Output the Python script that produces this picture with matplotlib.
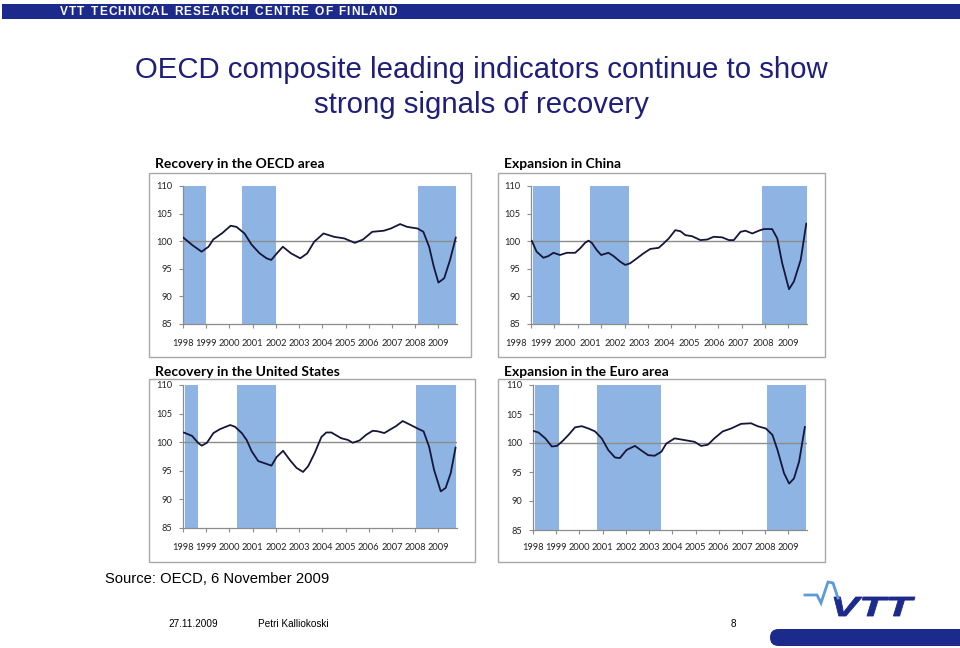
import matplotlib
matplotlib.use("Agg")
import matplotlib.pyplot as plt
import matplotlib.transforms as mtransforms
from matplotlib.patches import Rectangle, FancyBboxPatch, PathPatch
from matplotlib.textpath import TextPath, text_to_path
from matplotlib.font_manager import FontProperties
import numpy as np

W, H = 960, 648

# ---------------- data ----------------
year_labels = ["1998", "1999", "2000", "2001", "2002", "2003", "2004",
               "2005", "2006", "2007", "2008", "2009"]
y_ticks = [85, 90, 95, 100, 105, 110]

oecd_years = [1998.0, 1998.4, 1998.8, 1999.1, 1999.3, 1999.7, 2000.05, 2000.3, 2000.65,
              2000.95, 2001.3, 2001.6, 2001.8, 2002.0, 2002.3, 2002.65, 2003.05, 2003.35,
              2003.65, 2004.05, 2004.5, 2004.95, 2005.4, 2005.75, 2006.15, 2006.65,
              2006.95, 2007.35, 2007.65, 2008.1, 2008.35, 2008.6, 2008.8, 2009.0,
              2009.25, 2009.5, 2009.75]
oecd_vals = [100.7, 99.3, 98.1, 99.0, 100.3, 101.5, 102.8, 102.6, 101.4,
             99.4, 97.8, 96.9, 96.6, 97.6, 99.0, 97.8, 96.9, 97.8,
             99.9, 101.4, 100.8, 100.5, 99.7, 100.3, 101.7, 101.9,
             102.3, 103.1, 102.6, 102.3, 101.7, 99.0, 95.4, 92.5,
             93.3, 96.6, 100.7]
oecd_bands = [(1998.06, 1999.0), (2000.56, 2001.99), (2008.1, 2009.75)]

china_years = [1998.03, 1998.24, 1998.53, 1998.74, 1998.96, 1999.24, 1999.53, 1999.89,
               2000.1, 2000.31, 2000.46, 2000.6, 2000.81, 2001.0, 2001.31, 2001.53,
               2001.81, 2002.03, 2002.24, 2002.53, 2002.81, 2003.1, 2003.46, 2003.67,
               2003.89, 2004.17, 2004.39, 2004.6, 2004.89, 2005.24, 2005.53, 2005.81,
               2006.17, 2006.46, 2006.67, 2006.96, 2007.17, 2007.46, 2007.74, 2007.96,
               2008.31, 2008.53, 2008.74, 2009.03, 2009.24, 2009.53, 2009.77]
china_vals = [100.1, 98.1, 97.0, 97.3, 97.9, 97.5, 97.9, 97.9,
              98.7, 99.7, 100.1, 99.7, 98.4, 97.5, 97.9, 97.3,
              96.3, 95.7, 96.0, 96.9, 97.8, 98.6, 98.8, 99.6,
              100.5, 102.0, 101.8, 101.1, 100.9, 100.2, 100.3, 100.8,
              100.7, 100.2, 100.2, 101.7, 101.9, 101.4, 101.9, 102.2,
              102.2, 100.5, 96.0, 91.3, 92.7, 96.6, 103.2]
china_bands = [(1998.1, 1999.24), (2000.53, 2002.17), (2007.89, 2009.81)]

us_years = [1998.03, 1998.39, 1998.67, 1998.81, 1999.03, 1999.31, 1999.6, 2000.03,
            2000.24, 2000.53, 2000.74, 2000.96, 2001.24, 2001.53, 2001.81, 2002.03,
            2002.31, 2002.6, 2002.89, 2003.17, 2003.39, 2003.67, 2003.96, 2004.17,
            2004.39, 2004.81, 2005.1, 2005.31, 2005.6, 2005.89, 2006.17, 2006.39,
            2006.67, 2006.96, 2007.17, 2007.46, 2007.81, 2008.1, 2008.36, 2008.6,
            2008.81, 2009.1, 2009.31, 2009.53, 2009.74]
us_vals = [101.7, 101.1, 99.8, 99.4, 99.9, 101.6, 102.3, 103.0,
           102.7, 101.6, 100.4, 98.4, 96.7, 96.3, 95.9, 97.4,
           98.5, 96.9, 95.5, 94.8, 95.8, 98.1, 100.9, 101.7,
           101.7, 100.7, 100.4, 99.9, 100.3, 101.3, 102.0, 101.9,
           101.6, 102.3, 102.8, 103.7, 103.0, 102.4, 101.9, 99.2,
           95.2, 91.4, 92.0, 94.6, 99.1]
us_bands = [(1998.07, 1998.63), (2000.31, 2001.99), (2008.03, 2009.75)]

euro_years = [1998.0, 1998.24, 1998.53, 1998.81, 1999.03, 1999.24, 1999.53, 1999.81,
              2000.1, 2000.39, 2000.67, 2000.96, 2001.24, 2001.53, 2001.74, 2002.03,
              2002.39, 2002.67, 2002.96, 2003.24, 2003.53, 2003.74, 2004.1, 2004.53,
              2004.96, 2005.24, 2005.53, 2005.81, 2006.17, 2006.53, 2006.96, 2007.39,
              2007.67, 2008.03, 2008.31, 2008.53, 2008.81, 2009.03, 2009.24, 2009.46,
              2009.71]
euro_vals = [102.1, 101.8, 100.8, 99.4, 99.5, 100.2, 101.4, 102.7,
             102.9, 102.5, 102.0, 100.8, 98.8, 97.5, 97.4, 98.8,
             99.5, 98.7, 97.9, 97.8, 98.5, 99.9, 100.8, 100.5,
             100.2, 99.5, 99.7, 100.8, 102.0, 102.5, 103.3, 103.4,
             102.9, 102.5, 101.4, 98.8, 94.8, 93.0, 93.9, 96.8,
             102.8]
euro_bands = [(1998.1, 1999.1), (2000.77, 2003.53), (2008.07, 2009.75)]

# ---------------- styling ----------------
NAVY = "#1c2a8c"
TITLE_COL = "#1f1f7a"
BAND = "#8db4e2"
LINE = "#16163a"
GRAY = "#8c8c8c"
PANEL_FONT = "Lato"

fig = plt.figure(figsize=(W / 100, H / 100), dpi=100)
fig.patch.set_facecolor("white")


def fx(x):
    return x / W


def fy(y):
    return 1 - y / H


def box(x0, y0, x1, y1):
    return [fx(x0), fy(y1), fx(x1) - fx(x0), fy(y0) - fy(y1)]


bg = fig.add_axes([0, 0, 1, 1])
bg.set_xlim(0, W)
bg.set_ylim(H, 0)
bg.axis("off")

# header bar with letter-spaced text
bg.add_patch(Rectangle((2, 4), W - 2, 15, facecolor=NAVY, edgecolor="none"))
header = "VTT TECHNICAL RESEARCH CENTRE OF FINLAND"
hfs = 8.6
hprop = FontProperties(family="Liberation Sans", weight="bold", size=hfs)
adv = [text_to_path.get_text_width_height_descent(c if c != " " else "n", hprop, False)[0]
       * 100 / 72 * (0.55 if c == " " else 1.0) for c in header]
x_start, x_end = 60, 397
track = (x_end - x_start - sum(adv[:-1]) - adv[-1]) / (len(header) - 1)
cx = x_start
for c, a in zip(header, adv):
    if c != " ":
        bg.text(cx, 12, c, color="white", fontproperties=hprop, va="center", ha="left")
    cx += a + track

# title
bg.text(481, 70, "OECD composite leading indicators continue to show",
        color=TITLE_COL, fontsize=21.2, family="Liberation Sans", ha="center", va="center")
bg.text(481, 105, "strong signals of recovery",
        color=TITLE_COL, fontsize=21.2, family="Liberation Sans", ha="center", va="center")

# panel frames
frames = [(149, 173, 471, 357), (498, 173, 825, 357), (149, 379, 475, 562), (498, 379, 825, 562)]
for (x0, y0, x1, y1) in frames:
    bg.add_patch(Rectangle((x0, y0), x1 - x0, y1 - y0, facecolor="white",
                           edgecolor="#a8a8a8", lw=1.0))

# source and footer
bg.text(105, 579, "Source: OECD, 6 November 2009", fontsize=10.6, family="Liberation Sans",
        color="black", ha="left", va="center")
bg.text(168, 624, "27.11.2009", fontsize=7.2, family="Liberation Sans", ha="left", va="center")
bg.text(258, 624, "Petri Kalliokoski", fontsize=7.2, family="Liberation Sans", ha="left", va="center")
bg.text(733, 624, "8", fontsize=7.2, family="Liberation Sans", ha="center", va="center")

# VTT logo
bg.add_patch(FancyBboxPatch((770, 629), 200, 17, boxstyle="round,pad=0,rounding_size=8.5",
                            facecolor=NAVY, edgecolor="none"))
wave_x = [805, 817, 821, 828, 833, 838]
wave_y = [595, 595, 603, 582, 583, 598]
bg.plot(wave_x, wave_y, color="#5d9ad8", lw=2.0, solid_joinstyle="miter")
tp = TextPath((0, 0), "VTT", size=10,
              prop=FontProperties(family="Liberation Sans", weight="bold", style="italic"))
ext = tp.get_extents()
sx = (915 - 834) / ext.width
sy = (616 - 597) / ext.height
tr = (mtransforms.Affine2D().translate(-ext.x0, -ext.y0).scale(sx, -sy)
      .translate(834, 616))
bg.add_patch(PathPatch(tr.transform_path(tp), facecolor=NAVY, edgecolor=NAVY, lw=0.6))

panels = [
    ("Recovery in the OECD area", oecd_years, oecd_vals, oecd_bands,
     (183, 186, 457, 324), (155, 164), 343, (1998.0, 2009.0)),
    ("Expansion in China", china_years, china_vals, china_bands,
     (531, 186, 807, 324), (504, 164), 343, (1997.36, 2009.0)),
    ("Recovery in the United States", us_years, us_vals, us_bands,
     (183, 385, 457, 528), (155, 372), 547, (1998.0, 2009.0)),
    ("Expansion in the Euro area", euro_years, euro_vals, euro_bands,
     (533, 385, 807, 530), (504, 372), 548, (1998.0, 2009.0)),
]

for title, yrs, vals, bands, (x0, y0, x1, y1), (tx, ty), ly, (l0, l1) in panels:
    bg.text(tx, ty, title, fontsize=10, fontweight="bold", family=PANEL_FONT,
            color="black", ha="left", va="center")
    ax = fig.add_axes(box(x0, y0, x1, y1))
    ax.set_xlim(1998.0, 2009.8)
    ax.set_ylim(85, 110)
    ax.patch.set_alpha(0)
    for b0, b1 in bands:
        ax.axvspan(b0, b1, facecolor=BAND, edgecolor="none", zorder=1)
    ax.axhline(100, color=GRAY, lw=1.0, zorder=2)
    ax.plot(yrs, vals, color=LINE, lw=1.3, zorder=3, solid_joinstyle="round",
            solid_capstyle="round")
    for s in ["top", "right"]:
        ax.spines[s].set_visible(False)
    for s in ["left", "bottom"]:
        ax.spines[s].set_color(GRAY)
        ax.spines[s].set_linewidth(0.9)
    ax.set_yticks(y_ticks)
    ax.set_yticklabels([str(v) for v in y_ticks], fontsize=6.7, family=PANEL_FONT,
                       color="#222222")
    ax.tick_params(axis="y", length=3, color=GRAY, pad=5)
    ax.set_xticks(np.arange(1998, 2010))
    ax.set_xticklabels([])
    ax.tick_params(axis="x", length=3, color=GRAY)
    label_pos = np.linspace(l0, l1, len(year_labels))
    trans = mtransforms.blended_transform_factory(ax.transData, bg.transData)
    for p, lab in zip(label_pos, year_labels):
        ax.text(p, ly, lab, transform=trans, fontsize=6.7, family=PANEL_FONT,
                color="#222222", ha="center", va="center", clip_on=False)

fig.savefig("out.png", dpi=100, facecolor="white")
